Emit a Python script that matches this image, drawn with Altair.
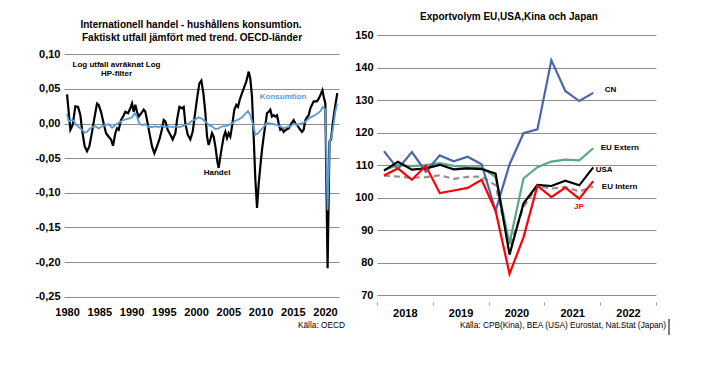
import altair as alt
import pandas as pd

FONT = "Liberation Sans"

# ---------------- Left chart data ----------------
handel_year = [1980.00, 1980.52, 1980.88, 1981.29, 1981.71, 1982.07, 1982.33, 1982.74, 1983.10, 1983.46,
               1983.88, 1984.24, 1984.65, 1984.91, 1985.27, 1985.68, 1986.05, 1986.46, 1986.82, 1987.13,
               1987.49, 1987.75, 1988.01, 1988.37, 1988.79, 1989.04, 1989.46, 1989.82, 1990.08, 1990.34,
               1990.59, 1990.85, 1991.11, 1991.52, 1991.89, 1992.14, 1992.51, 1992.82, 1993.18, 1993.54,
               1993.95, 1994.32, 1994.63, 1994.99, 1995.25, 1995.61, 1996.02, 1996.38, 1996.80, 1997.05,
               1997.42, 1997.83, 1998.09, 1998.35, 1998.71, 1999.12, 1999.48, 1999.79, 2000.16, 2000.52,
               2000.83, 2001.14, 2001.45, 2001.71, 2001.96, 2002.22, 2002.48, 2002.74, 2003.00, 2003.31,
               2003.51, 2003.77, 2004.03, 2004.29, 2004.55, 2004.81, 2005.06, 2005.32, 2005.58, 2005.94,
               2006.25, 2006.51, 2006.77, 2007.13, 2007.49, 2007.80, 2008.17, 2008.42, 2008.68, 2008.94,
               2009.20, 2009.46, 2009.72, 2009.97, 2010.23, 2010.49, 2010.75, 2011.01, 2011.27, 2011.52,
               2011.78, 2012.04, 2012.30, 2012.56, 2012.82, 2013.07, 2013.33, 2013.59, 2013.95, 2014.37,
               2014.78, 2015.14, 2015.40, 2015.66, 2016.02, 2016.43, 2016.69, 2016.95, 2017.21, 2017.47,
               2017.73, 2017.98, 2018.24, 2018.50, 2018.76, 2019.02, 2019.28, 2019.60, 2019.79, 2020.05,
               2020.40, 2020.70, 2020.95, 2021.20, 2021.50, 2021.90]
handel_val = [0.042, -0.009, -0.002, 0.025, 0.024, 0.012, -0.009, -0.033, -0.040, -0.033,
              -0.012, 0.008, 0.029, 0.027, 0.017, 0.000, -0.014, -0.019, -0.023, -0.032,
              -0.014, -0.007, -0.009, 0.005, 0.012, 0.017, 0.015, 0.022, 0.029, 0.017,
              0.027, 0.017, 0.010, 0.015, 0.020, 0.017, 0.000, -0.016, -0.033, -0.043,
              -0.033, -0.023, -0.012, 0.005, 0.003, -0.009, -0.016, -0.023, -0.014, 0.005,
              0.024, 0.022, 0.024, 0.000, -0.016, -0.023, -0.012, 0.010, 0.036, 0.058,
              0.062, 0.044, 0.015, -0.019, -0.031, -0.023, -0.014, -0.019, -0.033, -0.055,
              -0.064, -0.048, -0.033, -0.019, -0.012, -0.021, -0.014, -0.019, -0.004, 0.020,
              0.027, 0.024, 0.034, 0.044, 0.053, 0.061, 0.075, 0.065, 0.039, -0.019,
              -0.081, -0.122, -0.087, -0.062, -0.038, -0.019, -0.002, 0.015, 0.017, 0.020,
              0.010, 0.012, 0.010, 0.012, 0.000, -0.009, -0.007, -0.012, -0.009, -0.007,
              0.000, 0.005, 0.000, -0.002, -0.007, -0.012, -0.009, 0.005, 0.009, 0.012,
              0.022, 0.027, 0.032, 0.032, 0.032, 0.036, 0.041, 0.048, 0.039, 0.029,
              -0.209, -0.026, -0.022, 0.000, 0.020, 0.044]

kons_year = [1980.00, 1980.26, 1980.62, 1981.03, 1981.40, 1981.81, 1982.33, 1982.74, 1983.10, 1983.46,
             1983.88, 1984.39, 1984.91, 1985.43, 1985.94, 1986.46, 1986.98, 1987.49, 1988.01, 1988.53,
             1989.04, 1989.56, 1990.08, 1990.49, 1990.85, 1991.21, 1991.63, 1992.14, 1992.66, 1993.18,
             1993.70, 1994.21, 1994.73, 1995.25, 1995.76, 1996.28, 1996.80, 1997.31, 1997.83, 1998.35,
             1998.86, 1999.38, 1999.90, 2000.41, 2000.93, 2001.45, 2001.96, 2002.48, 2003.00, 2003.51,
             2004.03, 2004.55, 2005.06, 2005.58, 2006.10, 2006.61, 2007.13, 2007.65, 2008.06, 2008.42,
             2008.79, 2009.20, 2009.61, 2009.97, 2010.49, 2011.01, 2011.52, 2012.04, 2012.56, 2013.07,
             2013.59, 2014.11, 2014.63, 2015.14, 2015.66, 2016.18, 2016.69, 2017.21, 2017.73, 2018.24,
             2018.76, 2019.28, 2019.64, 2020.05, 2020.40, 2020.75, 2020.98, 2021.34, 2021.60, 2021.90]
kons_val = [0.014, 0.003, 0.005, 0.004, -0.002, -0.005, -0.009, -0.013, -0.012, -0.008,
            -0.005, -0.004, -0.007, -0.004, -0.002, -0.001, -0.006, -0.002, 0.001, 0.004,
            0.006, 0.007, 0.009, 0.015, 0.010, 0.000, -0.002, -0.001, -0.005, -0.005,
            -0.004, -0.005, -0.003, -0.005, -0.004, -0.005, -0.004, -0.005, -0.004, -0.002,
            0.000, 0.004, 0.006, 0.009, 0.007, 0.003, -0.002, -0.004, -0.008, -0.007,
            -0.004, -0.004, -0.002, 0.000, 0.004, 0.006, 0.009, 0.014, 0.018, 0.012,
            0.000, -0.016, -0.014, -0.010, -0.005, 0.001, 0.000, -0.001, -0.002, -0.004,
            -0.007, -0.005, -0.004, 0.000, -0.002, 0.000, 0.001, 0.005, 0.009, 0.011,
            0.014, 0.018, 0.024, 0.020, -0.125, -0.023, -0.021, 0.000, 0.017, 0.029]

left_x_ticks = [1980, 1985, 1990, 1995, 2000, 2005, 2010, 2015, 2020]
left_y_ticks = [0.10, 0.05, 0.0, -0.05, -0.10, -0.15, -0.20, -0.25]

left_notes = ["Log utfall avräknat Log", "HP-filter", "Konsumtion", "Handel"]
left_notes_x = [1987.67, 1987.67, 2013.5, 2003.26]
left_notes_y = [0.0846, 0.0716, 0.0384, -0.0713]
left_notes_c = ["black", "black", "#5B9BD5", "black"]

# ---------------- Right chart data ----------------
quarters = ["2018Q1", "2018Q2", "2018Q3", "2018Q4", "2019Q1", "2019Q2", "2019Q3", "2019Q4",
            "2020Q1", "2020Q2", "2020Q3", "2020Q4", "2021Q1", "2021Q2", "2021Q3", "2021Q4"]
cn = [114.3, 108.8, 114.0, 108.0, 113.0, 111.2, 112.6, 110.3, 96.0, 110.2, 119.8, 121.0, 142.2, 132.8, 129.7, 132.2]
eu_extern = [108.5, 110.0, 109.7, 110.0, 110.6, 109.8, 109.4, 109.3, 106.3, 86.0, 105.9, 109.4, 111.1, 111.7, 111.5, 115.2]
usa = [108.3, 111.0, 108.6, 109.0, 110.1, 108.7, 109.0, 108.8, 107.4, 82.5, 98.2, 103.9, 103.6, 105.2, 103.8, 109.3]
eu_intern = [106.8, 106.5, 106.1, 106.3, 106.9, 105.8, 106.4, 106.5, 103.8, 85.0, 97.0, 103.7, 102.8, 103.3, 101.9, 103.4]
jp = [106.8, 109.0, 105.5, 109.8, 101.4, 102.2, 103.0, 105.5, 96.0, 76.6, 87.8, 103.7, 100.2, 103.1, 99.7, 105.1]

right_years = [2018, 2019, 2020, 2021, 2022, 2023]
right_y_ticks = [70, 80, 90, 100, 110, 120, 130, 140, 150]

series_names = ["EU Intern", "EU Extern", "CN", "USA", "JP"]
series_values = [eu_intern, eu_extern, cn, usa, jp]
series_colors = ["#909090", "#5BA58C", "#4A66AC", "#000000", "#FF0000"]

right_notes = ["CN", "EU Extern", "USA", "EU Intern", "JP"]
right_notes_x = [2022.08, 2022.01, 2021.92, 2022.03, 2021.62]
right_notes_y = [133.0, 115.4, 108.5, 103.3, 97.0]
right_notes_c = ["black", "black", "black", "black", "#FF0000"]
right_notes_align = ["left", "left", "left", "left", "center"]

# ---------------- Build left chart ----------------
W1, W2, H = 275, 279, 262

xl_scale = alt.Scale(domain=[1979.53, 2022.17], nice=False, zero=False)
yl_scale = alt.Scale(domain=[-0.2505, 0.1279], nice=False, zero=False)

xl_axis = alt.Axis(values=left_x_ticks, format="d", ticks=False, domain=False, grid=False,
                   labelPadding=9, labelFont=FONT, labelFontSize=11, labelFontWeight="bold",
                   labelColor="black", labelFlush=False, labelOverlap=False, title=None)
yl_axis = alt.Axis(values=left_y_ticks,
                   labelExpr="(datum.value < 0 ? '-' : '') + replace(format(abs(datum.value), '.2f'), '.', ',')",
                   ticks=False, domain=False, grid=True, gridColor="#8c8c8c", gridWidth=1,
                   labelPadding=4, labelFont=FONT, labelFontSize=11, labelFontWeight="bold",
                   labelColor="black", labelFlush=False, labelOverlap=False, title=None)

XL = alt.X("x:Q", scale=xl_scale, axis=xl_axis, title=None)
YL = alt.Y("y:Q", scale=yl_scale, axis=yl_axis, title=None)

handel_df = pd.DataFrame({"x": handel_year, "y": handel_val})
kons_df = pd.DataFrame({"x": kons_year, "y": kons_val})

handel_line = alt.Chart(handel_df).mark_line(color="black", strokeWidth=2.2).encode(x=XL, y=YL)
kons_line = alt.Chart(kons_df).mark_line(color="#5B9BD5", strokeWidth=1.8).encode(x=XL, y=YL)
lnotes_df = pd.DataFrame({"t": left_notes, "x": left_notes_x, "y": left_notes_y, "c": left_notes_c})
left_notes_layer = alt.Chart(lnotes_df).mark_text(font=FONT, fontSize=8, fontWeight="bold",
                                                  align="center", baseline="middle").encode(
    x=XL, y=YL, text="t:N", color=alt.Color("c:N", scale=None),
)
title_l1 = alt.Chart(pd.DataFrame({"t": ["Internationell handel - hushållens konsumtion."]})).mark_text(
    font=FONT, fontSize=10, fontWeight="bold", align="center", baseline="middle", color="black"
).encode(text="t:N", x=alt.value(127), y=alt.value(-10))
title_l2 = alt.Chart(pd.DataFrame({"t": ["Faktiskt utfall jämfört med trend. OECD-länder"]})).mark_text(
    font=FONT, fontSize=10, fontWeight="bold", align="center", baseline="middle", color="black"
).encode(text="t:N", x=alt.value(128), y=alt.value(2.5))
src_l = alt.Chart(pd.DataFrame({"t": ["Källa: OECD"]})).mark_text(
    font=FONT, fontSize=8.3, align="right", baseline="middle", color="black"
).encode(text="t:N", x=alt.value(281), y=alt.value(291))

left = alt.layer(handel_line, kons_line, left_notes_layer, title_l1, title_l2, src_l).properties(
    width=W1, height=H)

# ---------------- Build right chart ----------------
rows = []
for name, vals in zip(series_names, series_values):
    for q, v in zip(quarters, vals):
        pos = int(q[:4]) + (int(q[-1]) - 0.5) / 4.0
        rows.append({"series": name, "x": pos, "y": v})
right_df = pd.DataFrame(rows)

xr_scale = alt.Scale(domain=[2018, 2023], nice=False, zero=False)
yr_scale = alt.Scale(domain=[69.48, 150], nice=False, zero=False)

xr_axis = alt.Axis(values=right_years, labelExpr="datum.value == 2023 ? '' : datum.label", format="d",
                   labelOffset=27.8, ticks=True, tickSize=3, tickColor="#999999", tickWidth=1,
                   domain=False, grid=False, offset=5, labelPadding=2, labelFont=FONT, labelFontSize=11,
                   labelFontWeight="bold", labelColor="black", labelFlush=False, labelOverlap=False,
                   title=None)
yr_axis = alt.Axis(values=right_y_ticks, ticks=False, domain=False, grid=True, gridColor="#8c8c8c",
                   gridWidth=1, labelPadding=4, labelFont=FONT, labelFontSize=11, labelFontWeight="bold",
                   labelColor="black", labelFlush=False, labelOverlap=False, title=None)

XR = alt.X("x:Q", scale=xr_scale, axis=xr_axis, title=None)
YR = alt.Y("y:Q", scale=yr_scale, axis=yr_axis, title=None)

layers_r = []
for i, name in enumerate(series_names):
    sub = right_df[right_df["series"] == name]
    kw = dict(color=series_colors[i], strokeWidth=2.2)
    if name == "EU Intern":
        kw["strokeDash"] = [6, 4]
    layers_r.append(alt.Chart(sub).mark_line(**kw).encode(x=XR, y=YR))

rnotes_df = pd.DataFrame({"t": right_notes, "x": right_notes_x, "y": right_notes_y,
                          "c": right_notes_c, "a": right_notes_align})
for a in ["left", "center"]:
    layers_r.append(alt.Chart(rnotes_df[rnotes_df["a"] == a]).mark_text(
        font=FONT, fontSize=8, fontWeight="bold", align=a, baseline="middle").encode(
        x=XR, y=YR, text="t:N", color=alt.Color("c:N", scale=None)))

title_r = alt.Chart(pd.DataFrame({"t": ["Exportvolym EU,USA,Kina och Japan"]})).mark_text(
    font=FONT, fontSize=10, fontWeight="bold", align="center", baseline="middle", color="black"
).encode(text="t:N", x=alt.value(132), y=alt.value(-17.7))
src_r = alt.Chart(pd.DataFrame({"t": ["Källa: CPB(Kina), BEA (USA) Eurostat, Nat.Stat (Japan)"]})).mark_text(
    font=FONT, fontSize=8.3, align="right", baseline="middle", color="black"
).encode(text="t:N", x=alt.value(289), y=alt.value(291))
bar_r = alt.Chart(pd.DataFrame({"v": [0]})).mark_rule(color="black", strokeWidth=1).encode(
    x=alt.value(292), y=alt.value(284), y2=alt.value(300))

right = alt.layer(*layers_r, title_r, src_r, bar_r).properties(width=W2, height=H)

chart = alt.hconcat(left, right, spacing=38, bounds="flush").properties(
    padding={"left": 26, "top": 4, "right": 5, "bottom": 5}
).configure(background="white").configure_view(stroke=None)

chart.save("out.html", embed_options={"renderer": "svg", "actions": False})
